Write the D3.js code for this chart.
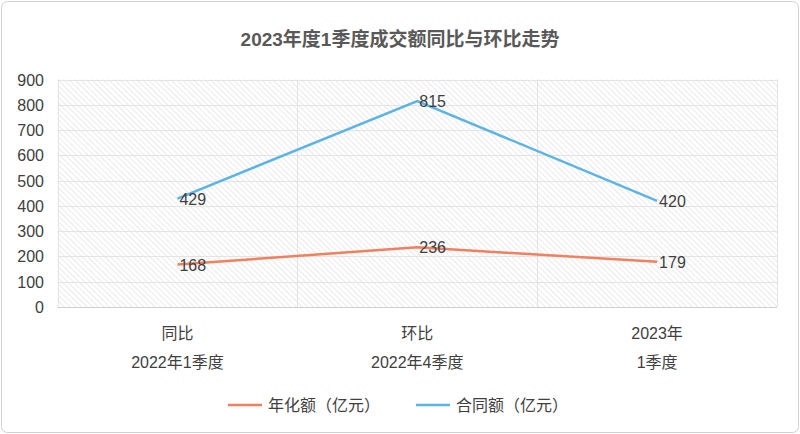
<!DOCTYPE html><html><head><meta charset="utf-8"><script src="https://cdn.jsdelivr.net/npm/d3@7"></script>
<style>body{margin:0;background:#fff}text{font-family:"Liberation Sans","Noto Sans CJK SC",sans-serif}</style></head><body><svg id="c" width="800" height="434"></svg><script>
const categories=[["同比","2022年1季度"],["环比","2022年4季度"],["2023年","1季度"]];
const seriesNames=["年化额（亿元）","合同额（亿元）"];
const annualValues=[168,236,179];
const contractValues=[429,815,420];
const yTicks=[0,100,200,300,400,500,600,700,800,900];
const colors=["#F08060","#5BB4E5"];
const svg=d3.select("#c");
svg.append("rect").attr("x",1.5).attr("y",1.5).attr("width",797).attr("height",431).attr("rx",6).attr("fill","#fff").attr("stroke","#d0d0d0");
const defs=svg.append("defs");
const p=defs.append("pattern").attr("id","h").attr("width",4).attr("height",4).attr("patternUnits","userSpaceOnUse").attr("patternTransform","rotate(-45)");
p.append("rect").attr("width",4).attr("height",4).attr("fill","#fff");
p.append("line").attr("x1",0).attr("y1",0).attr("x2",0).attr("y2",4).attr("stroke","#dcdcdc").attr("stroke-width",1.2);
const L=57.5,R=777,T=79.5,B=307;
const x=d3.scaleBand().domain(d3.range(3)).range([L,R]);
const y=d3.scaleLinear().domain([0,900]).range([B,T]);
svg.append("rect").attr("x",L).attr("y",T).attr("width",R-L).attr("height",B-T).attr("fill","url(#h)");
svg.append("text").attr("x",400).attr("y",46).attr("text-anchor","middle").attr("font-size",19).attr("font-weight","bold").attr("fill","#595959").text("2023年度1季度成交额同比与环比走势");
const g=svg.append("g");
yTicks.forEach(t=>{g.append("line").attr("x1",L).attr("x2",R).attr("y1",Math.round(y(t))+.5).attr("y2",Math.round(y(t))+.5).attr("stroke",t==0?"#d0d0d0":"#e4e4e4");
g.append("text").attr("x",44).attr("y",y(t)+6).attr("text-anchor","end").attr("font-size",16).attr("fill","#404040").text(t);});
[0,1,2,3].forEach(i=>{const xx=i<3?x(i):R;g.append("line").attr("x1",Math.round(xx)+.5).attr("x2",Math.round(xx)+.5).attr("y1",T).attr("y2",B).attr("stroke","#e4e4e4");});
categories.forEach((c,i)=>{c.forEach((s,j)=>g.append("text").attr("x",x(i)+x.bandwidth()/2).attr("y",339+j*29).attr("text-anchor","middle").attr("font-size",16).attr("fill","#404040").text(s));});
const cx=i=>x(i)+x.bandwidth()/2;
[annualValues,contractValues].forEach((vals,k)=>{
svg.append("path").datum(vals).attr("fill","none").attr("stroke",colors[k]).attr("stroke-width",2.5).attr("d",d3.line().x((d,i)=>cx(i)).y(d=>y(d)));
vals.forEach((v,i)=>svg.append("text").attr("x",cx(i)+2).attr("y",y(v)+6).attr("font-size",16).attr("fill","#404040").text(v));});
const lx=[228,416];
seriesNames.forEach((n,k)=>{svg.append("line").attr("x1",lx[k]).attr("x2",lx[k]+34).attr("y1",405).attr("y2",405).attr("stroke",colors[k]).attr("stroke-width",2.5);
svg.append("text").attr("x",lx[k]+40).attr("y",411).attr("font-size",16).attr("fill","#404040").text(n);});
</script></body></html>
